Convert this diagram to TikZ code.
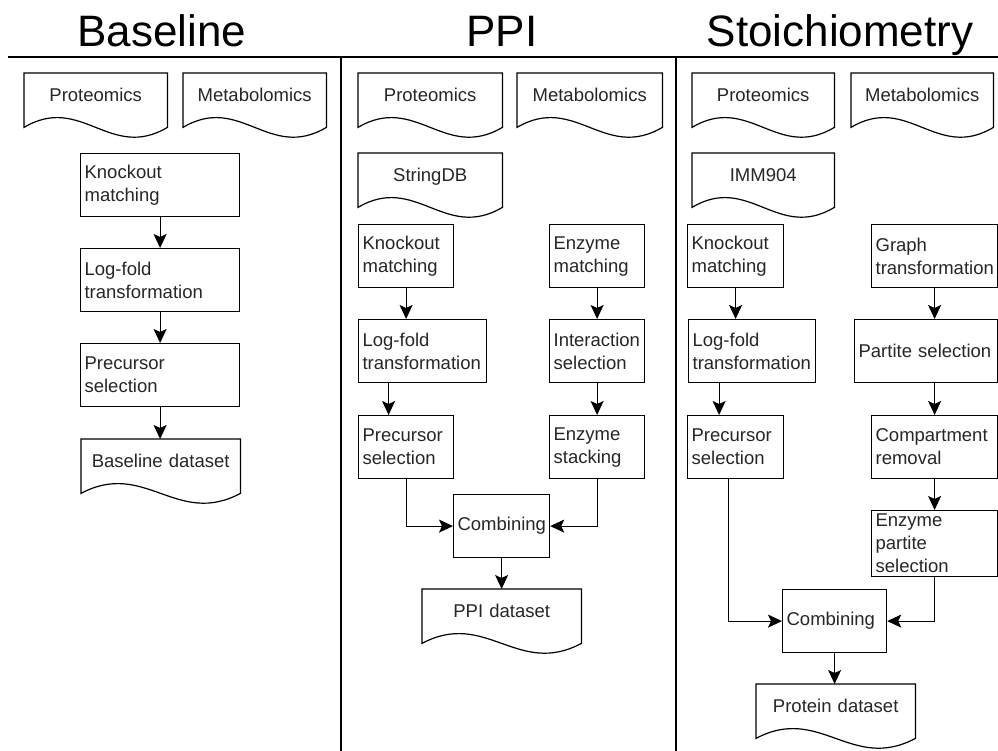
\documentclass[tikz,border=0pt]{standalone}
\usepackage{fontspec}
\setmainfont{Liberation Sans}
\usetikzlibrary{calc,arrows.meta}

\tikzset{
	line/.style={line width=1.2pt},
	arr/.style={line, -{Stealth[length=14pt,width=13pt,inset=3pt]}},
	title/.style={anchor=base, inner sep=0pt, text=black, font=\fontsize{44}{50}\selectfont},
	proc/.style={line, draw, anchor=north west, minimum height=63pt, text width=#1, inner xsep=4pt, align=left},
	doc/.style={anchor=north west, minimum height=64pt, text width=#1, inner xsep=0pt, align=center, text height=13.5pt, text depth=21.5pt}
}

\newcommand{\docshape}[1]{%
	\draw[line] ([yshift=10pt]#1.south west) -- (#1.north west) -- (#1.north east) -- ([yshift=10pt]#1.south east)
		.. controls ([yshift=-24pt]$(#1.south west)!0.6!(#1.south east)$) and ([yshift=44pt]$(#1.south west)!0.4!(#1.south east)$) .. cycle;
}

\begin{document}
\begin{tikzpicture}[x=1pt,y=-1pt,font=\fontsize{18.5}{23}\selectfont,text=black!85]
\useasboundingbox (0,0) rectangle (998,751);

\draw[line] (8,57) -- (998,57);
\foreach \x in {341,676}
{
	\draw[line] (\x,57) -- (\x,751);
}

\node[title] (tbase) at (162,47) {Baseline};
\node[title] (tppi) at (502,47) {PPI};
\node[title] (tstoi) at (840,47) {Stoichiometry};

% Baseline
\node[doc=143] (prot1) at (24,73) {Proteomics};
\node[doc=143] (meta1) at (183,73) {Metabolomics};
\node[proc=151] (ko1) at (80,153) {Knockout\\matching};
\node[proc=151] (lf1) at (80,248) {Log-fold\\transformation};
\node[proc=151] (pc1) at (80,343) {Precursor\\selection};
\node[doc=159] (bdata) at (81,439) {Baseline dataset};
\foreach \n in {prot1,meta1,bdata}
{
	\docshape{\n}
}
\draw[arr] (ko1) -- (lf1);
\draw[arr] (lf1) -- (pc1);
\draw[arr] (pc1.south) -- (pc1.south |- bdata.north);

% PPI
\node[doc=144] (prot2) at (358,73) {Proteomics};
\node[doc=145] (meta2) at (517,73) {Metabolomics};
\node[doc=144] (sdb) at (358,153) {StringDB};
\node[proc=87] (ko2) at (358,224) {Knockout\\matching};
\node[proc=120] (lf2) at (358,319) {Log-fold\\transformation};
\node[proc=87] (pc2) at (358,415) {Precursor\\selection};
\node[proc=87] (em2) at (549,224) {Enzyme\\matching};
\node[proc=87] (is2) at (549,319) {Interaction\\selection};
\node[proc=87] (es2) at (549,415) {Enzyme\\stacking};
\node[proc=88] (comb2) at (453,494) {Combining};
\node[doc=159] (pdata) at (422,589) {PPI dataset};
\foreach \n in {prot2,meta2,sdb,pdata}
{
	\docshape{\n}
}
\draw[arr] (ko2.south) -- (ko2.south |- lf2.north);
\draw[arr] ([xshift=-34pt]lf2.south) -- ([xshift=-34pt]lf2.south |- pc2.north);
\draw[arr] (em2) -- (is2);
\draw[arr] (is2) -- (es2);
\draw[arr] (pc2.south) |- (comb2.west);
\draw[arr] (es2.south) |- (comb2.east);
\draw[arr] (comb2.south) -- (comb2.south |- pdata.north);

% Stoichiometry
\node[doc=142] (prot3) at (692,73) {Proteomics};
\node[doc=142] (meta3) at (851,73) {Metabolomics};
\node[doc=142] (imm) at (692,153) {IMM904};
\node[proc=88] (ko3) at (687,224) {Knockout\\matching};
\node[proc=119] (lf3) at (688,319) {Log-fold\\transformation};
\node[proc=88] (pc3) at (687,415) {Precursor\\selection};
\node[proc=118] (gt3) at (871,224) {Graph\\transformation};
\node[proc=135] (ps3) at (854,319) {Partite selection};
\node[proc=118] (cr3) at (871,415) {Compartment\\removal};
\node[proc=118] (ep3) at (871,510) {Enzyme\\partite\\selection};
\node[proc=96] (comb3) at (782,589) {Combining};
\node[doc=159] (prdata) at (756,684) {Protein dataset};
\foreach \n in {prot3,meta3,imm,prdata}
{
	\docshape{\n}
}
\draw[arr] (ko3.south) -- (ko3.south |- lf3.north);
\draw[arr] ([xshift=-33pt]lf3.south) -- ([xshift=-33pt]lf3.south |- pc3.north);
\draw[arr] (gt3.south) -- (gt3.south |- ps3.north);
\draw[arr] (ps3.south -| cr3.north) -- (cr3.north);
\draw[arr] (cr3) -- (ep3);
\draw[arr] ([xshift=-7pt]pc3.south) |- (comb3.west);
\draw[arr] (ep3.south) |- (comb3.east);
\draw[arr] (comb3.south) -- (comb3.south |- prdata.north);

\end{tikzpicture}
\end{document}
